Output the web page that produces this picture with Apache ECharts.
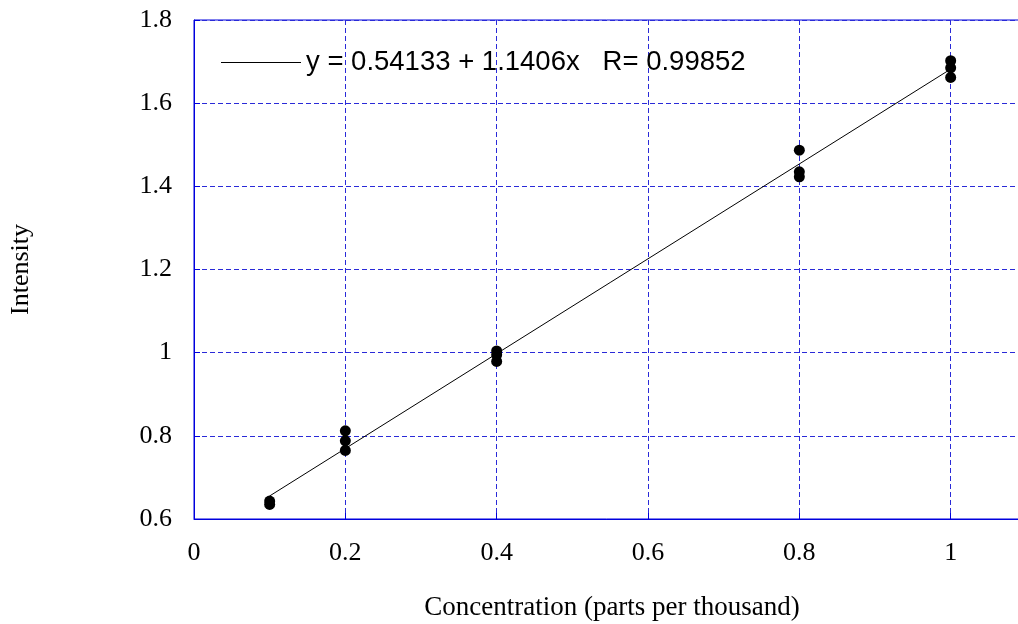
<!DOCTYPE html>
<html>
<head>
<meta charset="utf-8">
<script src="https://cdn.jsdelivr.net/npm/echarts@6/dist/echarts.min.js"></script>
<style>
  html, body { margin: 0; padding: 0; background: #fff; }
  #chart { width: 1018px; height: 624px; }
</style>
</head>
<body>
<div id="chart"></div>
<script>
// measured points (concentration, intensity)
var concX = [0.1, 0.1, 0.2, 0.2, 0.2, 0.4, 0.4, 0.4, 0.8, 0.8, 0.8, 1.0, 1.0, 1.0]
var intensity = [0.643, 0.635, 0.812, 0.788, 0.765, 1.004, 0.995, 0.979, 1.487, 1.435, 1.423, 1.702, 1.685, 1.662]

// fitted line end points: y = 0.54133 + 1.1406x
var fitX = [0.1, 1.0]
var fitY = [0.65539, 1.68193]

var fitLabel = 'y = 0.54133 + 1.1406x   R= 0.99852'

var serif = 'Liberation Serif'
var gridBlue = '#2a2ad8'

var chart = echarts.init(document.getElementById('chart'))

var option = {
  animation: false,
  backgroundColor: '#fff',
  grid: {
    left: 194,
    top: 20,
    width: 908,
    height: 499,
    containLabel: false,
    outerBoundsMode: 'none',
    show: true,
    borderColor: '#0000dd',
    borderWidth: 1
  },
  legend: {
    left: 216,
    top: 43.5,
    icon: 'rect',
    itemWidth: 80,
    itemHeight: 1,
    data: [fitLabel],
    itemStyle: { color: '#000' },
    textStyle: {
      fontFamily: 'Liberation Sans',
      fontSize: 27.5,
      color: '#000'
    }
  },
  xAxis: {
    type: 'value',
    min: 0,
    max: 1.2,
    interval: 0.2,
    name: 'Concentration (parts per thousand)',
    nameLocation: 'middle',
    nameGap: 75,
    // name sits centred on the visible part of the axis
    nameTextStyle: { fontFamily: serif, fontSize: 27, color: '#000', padding: [0, 72, 0, 0] },
    axisLine: { show: true, lineStyle: { color: '#0000dd' } },
    axisTick: { show: true, inside: true, length: 6, lineStyle: { color: '#0000dd' } },
    axisLabel: { fontFamily: serif, fontSize: 26, color: '#000', margin: 21 },
    splitLine: { show: true, lineStyle: { color: gridBlue, type: [5, 3], width: 1 } }
  },
  yAxis: {
    type: 'value',
    min: 0.6,
    max: 1.8,
    interval: 0.2,
    name: 'Intensity',
    nameLocation: 'middle',
    nameGap: 160,
    nameTextStyle: { fontFamily: serif, fontSize: 26, color: '#000' },
    axisLine: { show: true, lineStyle: { color: '#0000dd' } },
    axisTick: { show: true, inside: true, length: 6, lineStyle: { color: '#0000dd' } },
    axisLabel: { fontFamily: serif, fontSize: 26, color: '#000', margin: 22 },
    splitLine: { show: true, lineStyle: { color: gridBlue, type: [5, 3], width: 1 } }
  },
  series: [
    {
      name: fitLabel,
      type: 'line',
      symbol: 'none',
      lineStyle: { color: '#000', width: 1 },
      itemStyle: { color: '#000' },
      data: fitX.map(function (x, i) { return [x, fitY[i]] }),
      z: 3
    },
    {
      name: 'data',
      type: 'scatter',
      symbol: 'circle',
      symbolSize: 11,
      itemStyle: { color: '#000', opacity: 1 },
      data: concX.map(function (x, i) { return [x, intensity[i]] }),
      z: 4
    }
  ]
}

chart.setOption(option)
</script>
</body>
</html>
